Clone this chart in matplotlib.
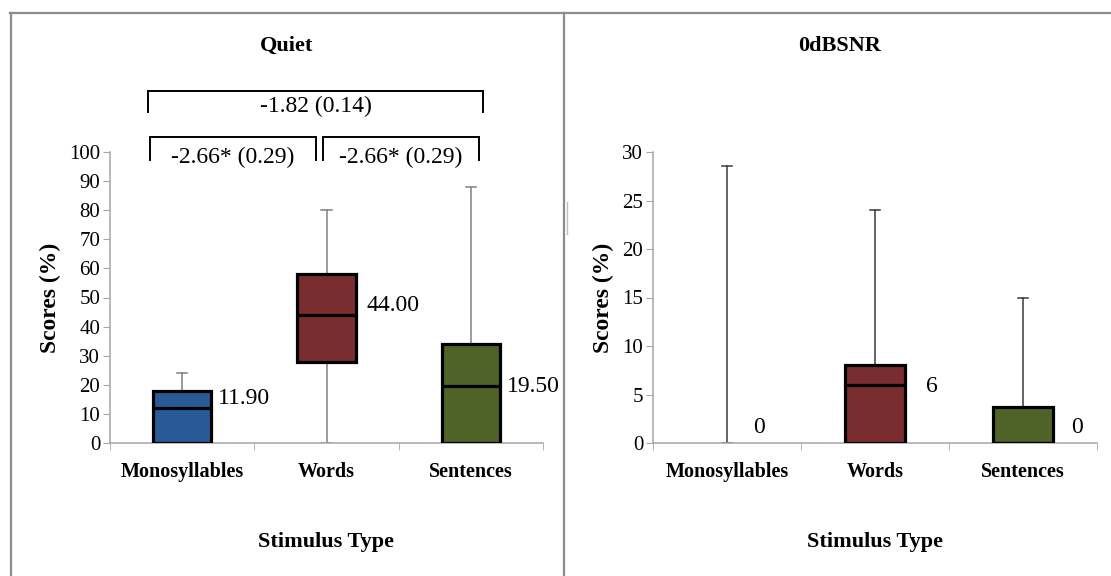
import matplotlib.pyplot as plt
from matplotlib.lines import Line2D

plt.rcParams['font.family'] = ['Liberation Serif', 'DejaVu Serif']

categories = ['Monosyllables', 'Words', 'Sentences']
box_colors = ['#275A97', '#7A2D2E', '#4F6228']

# Quiet condition: whisker low, q1, median, q3, whisker high
quiet_low = [0, 0, 0]
quiet_q1 = [0, 28, 0]
quiet_med = [11.90, 44.00, 19.50]
quiet_q3 = [18, 58, 34]
quiet_high = [24, 80, 88]
quiet_labels = ['11.90', '44.00', '19.50']

# 0 dB SNR condition
snr_low = [0, 0, 0]
snr_q1 = [0, 0, 0]
snr_med = [0, 6, 0]
snr_q3 = [0, 8, 3.75]
snr_high = [28.6, 24, 15]
snr_labels = ['0', '6', '0']

# pairwise comparisons drawn above the Quiet panel
cmp_pairs = [(1, 3), (1, 2), (2, 3)]
cmp_texts = ['-1.82 (0.14)', '-2.66* (0.29)', '-2.66* (0.29)']

fig = plt.figure(figsize=(11.11, 5.76), dpi=100)

W, H = 1111, 576


def fx(px):
    return px / W


def fy(py):
    return 1 - py / H


def draw_panel(ax, low, q1, med, q3, high, labels, ymax, ystep, whisk_col, lab_off):
    stats = []
    for i in range(3):
        stats.append(dict(whislo=low[i], q1=q1[i], med=med[i], q3=q3[i],
                          whishi=high[i], fliers=[], label=categories[i]))
    res = ax.bxp(stats, positions=[1, 2, 3], widths=0.405, patch_artist=True,
                 showfliers=False, capwidths=0.07,
                 boxprops=dict(edgecolor='black', linewidth=2.3),
                 medianprops=dict(color='black', linewidth=2.3),
                 whiskerprops=dict(color=whisk_col, linewidth=1.1),
                 capprops=dict(color=whisk_col, linewidth=1.1))
    for i, b in enumerate(res['boxes']):
        b.set_facecolor(box_colors[i])
        b.set_zorder(3)
        if q3[i] == q1[i]:
            b.set_visible(False)
            res['medians'][i].set_visible(False)
    for m in res['medians']:
        m.set_zorder(4)
    for i, t in enumerate(labels):
        dx, dy = lab_off[i]
        ax.annotate(t, xy=(i + 1 + 0.2025, med[i]), xytext=(dx, dy),
                    textcoords='offset points', va='center', ha='left',
                    fontsize=17, clip_on=False)
    ax.set_xlim(0.5, 3.5)
    ax.set_ylim(0, ymax)
    ax.set_yticks(range(0, ymax + 1, ystep))
    ax.set_xticks([1, 2, 3])
    ax.set_xticklabels(categories, fontweight='bold', fontsize=14.5)
    ax.set_xticks([0.5, 1.5, 2.5, 3.5], minor=True)
    ax.tick_params(axis='x', which='major', length=0, pad=14)
    ax.tick_params(axis='x', which='minor', length=5, color='#a6a6a6', direction='out')
    ax.tick_params(axis='y', length=5, color='#a6a6a6', labelsize=15, pad=2)
    for s in ['top', 'right']:
        ax.spines[s].set_visible(False)
    for s in ['left', 'bottom']:
        ax.spines[s].set_color('#a6a6a6')
        ax.spines[s].set_linewidth(1.1)
    ax.set_ylabel('Scores (%)', fontweight='bold', fontsize=17, labelpad=6)
    ax.set_xlabel('Stimulus Type', fontweight='bold', fontsize=16, labelpad=36)


ax1 = fig.add_axes([fx(110), fy(443), fx(433), 291 / H])
draw_panel(ax1, quiet_low, quiet_q1, quiet_med, quiet_q3, quiet_high, quiet_labels,
           100, 10, '#808080', [(5, 7), (8, 7), (5, 0)])

ax2 = fig.add_axes([fx(653), fy(443), fx(444), 291 / H])
draw_panel(ax2, snr_low, snr_q1, snr_med, snr_q3, snr_high, snr_labels,
           30, 5, '#3a3a3a', [(-3, 11), (15, -1), (13, 11)])

# comparison brackets
br_levels = [(121, 113.7), (105.2, 97.3), (105.2, 97.3)]
br_x = [(0.763, 3.085), (0.777, 1.928), (1.976, 3.057)]
txt_y = [115.5, 98]
for k, (a, b) in enumerate(br_x):
    top, bot = br_levels[k]
    ax1.plot([a, a, b, b], [bot, top, top, bot], color='black', lw=1.4,
             clip_on=False, solid_joinstyle='miter')
    ty = txt_y[0] if k == 0 else txt_y[1]
    ax1.text((a + b) / 2, ty, cmp_texts[k], ha='center', va='center',
             fontsize=17, clip_on=False)

# titles centred on each panel frame
fig.text(fx(287), fy(46), 'Quiet', ha='center', va='center', fontsize=16, fontweight='bold')
fig.text(fx(840), fy(46), '0dBSNR', ha='center', va='center', fontsize=16, fontweight='bold')

# panel frames
frame = dict(color='#8c8c8c', lw=1.6, transform=fig.transFigure)
fig.add_artist(Line2D([fx(10), fx(1111)], [fy(13), fy(13)], **frame))
fig.add_artist(Line2D([fx(10.5), fx(10.5)], [fy(13), fy(576)], **frame))
fig.add_artist(Line2D([fx(564), fx(564)], [fy(13), fy(576)], **frame))
fig.add_artist(Line2D([fx(566.5), fx(566.5)], [fy(202), fy(234)], color='#bdbdbd',
                      lw=1, transform=fig.transFigure))

fig.savefig('out.png', dpi=100)
